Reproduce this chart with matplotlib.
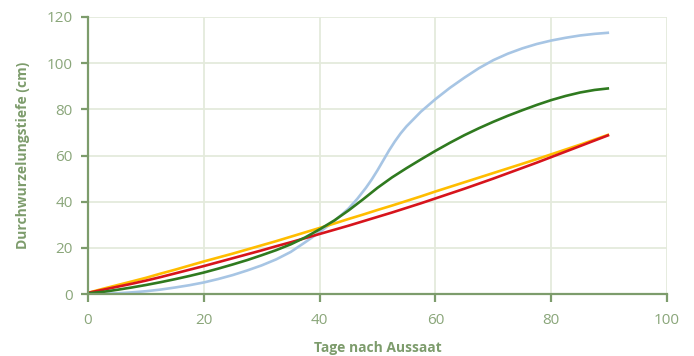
import matplotlib
matplotlib.use("Agg")
import matplotlib.pyplot as plt

days_a = [0, 2.5, 5, 7.5, 10, 12.5, 15, 17.5, 20, 22.5, 25, 27.5, 30, 32.5, 35, 37.5,
          40, 42.5, 45, 47.5, 50, 52.5, 55, 57.5, 60, 62.5, 65, 67.5, 70, 72.5, 75,
          77.5, 80, 82.5, 85, 87.5, 90]
yellow = [0.5, 2.2, 3.8, 5.4, 7.0, 8.8, 10.5, 12.3, 14.1, 15.8, 17.5, 19.3, 21.1, 22.9,
          24.8, 26.7, 28.6, 30.5, 32.5, 34.4, 36.4, 38.3, 40.3, 42.3, 44.4, 46.4, 48.4,
          50.4, 52.4, 54.4, 56.4, 58.4, 60.5, 62.6, 64.7, 66.9, 69.1]
red = [0.5, 1.8, 3.1, 4.4, 5.8, 7.3, 8.9, 10.5, 12.1, 13.8, 15.5, 17.2, 18.9, 20.7,
       22.4, 24.2, 26.0, 27.8, 29.6, 31.5, 33.4, 35.3, 37.3, 39.3, 41.4, 43.5, 45.6,
       47.8, 50.0, 52.3, 54.6, 56.9, 59.3, 61.7, 64.1, 66.5, 68.9]
green = [0.3, 0.9, 1.8, 2.8, 3.9, 5.1, 6.4, 7.8, 9.3, 11.0, 12.8, 14.7, 16.8, 19.0,
         21.5, 24.5, 28.0, 31.8, 36.2, 41.0, 46.0, 50.5, 54.5, 58.3, 62.0, 65.5, 68.8,
         71.8, 74.6, 77.2, 79.6, 81.9, 84.0, 85.8, 87.3, 88.4, 89.1]

days_b = [0, 2.5, 5, 7.5, 10, 12.5, 15, 17.5, 20, 22.5, 25, 27.5, 30, 32.5, 35, 37.5,
          40, 42.5, 45, 46.5, 48, 49, 50, 51, 52, 53, 54, 55, 57.5, 60, 62.5, 65, 67.5,
          70, 72.5, 75, 77.5, 80, 82.5, 85, 87.5, 90]
blue = [0.0, 0.1, 0.3, 0.7, 1.2, 1.9, 2.8, 3.8, 5.0, 6.5, 8.2, 10.2, 12.4, 15.0, 18.2,
        22.4, 26.8, 31.5, 37.0, 41.2, 46.0, 49.6, 53.6, 57.9, 62.2, 66.1, 69.6, 72.6,
        79.0, 84.4, 89.3, 93.7, 97.8, 101.3, 104.1, 106.4, 108.3, 109.8, 111.0, 112.0,
        112.7, 113.2]

x_ticks = [0, 20, 40, 60, 80, 100]
y_ticks = [0, 20, 40, 60, 80, 100, 120]

axis_col = "#7d9c6c"
tick_col = "#8aa67a"
grid_col = "#e4eadc"

plt.rcParams['font.family'] = ['Open Sans', 'DejaVu Sans']

fig = plt.figure(figsize=(6.94, 3.56), dpi=100)
ax = fig.add_axes([88/694, 62/356, (667-88)/694, (294-17)/356])

ax.plot(days_b, blue, color="#a7c5e4", lw=1.9, solid_capstyle='butt', zorder=3)
ax.plot(days_a, yellow, color="#ffbd00", lw=1.9, solid_capstyle='butt', zorder=3)
ax.plot(days_a, red, color="#d7141c", lw=1.9, solid_capstyle='butt', zorder=4)
ax.plot(days_a, green, color="#2f7a1f", lw=1.9, solid_capstyle='butt', zorder=5)

ax.set_xlim(0, 100)
ax.set_ylim(0, 120)
ax.set_xticks(x_ticks)
ax.set_yticks(y_ticks)
ax.grid(True, color=grid_col, lw=1.3, zorder=0)
ax.set_axisbelow(True)

for s in ['top', 'right']:
    ax.spines[s].set_visible(False)
for s in ['left', 'bottom']:
    ax.spines[s].set_color(axis_col)
    ax.spines[s].set_linewidth(1.6)
    ax.spines[s].set_zorder(6)

ax.tick_params(axis='both', colors=axis_col, width=1.6, labelcolor=tick_col, labelsize=11)
ax.tick_params(axis='x', length=6, pad=8)
ax.tick_params(axis='y', length=5, pad=6)

ax.set_xlabel("Tage nach Aussaat", color=axis_col, fontsize=10, fontweight='bold', labelpad=9)
ax.set_ylabel("Durchwurzelungstiefe (cm)", color=axis_col, fontsize=10, fontweight='bold', labelpad=12)

fig.savefig("out.png", dpi=100)
